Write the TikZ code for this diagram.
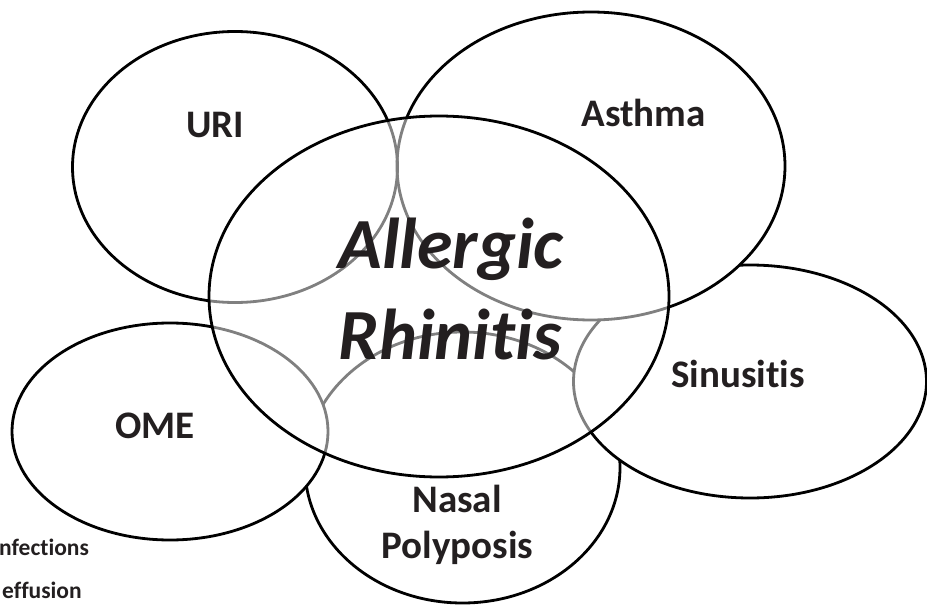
\documentclass[tikz,border=0pt]{standalone}
\usepackage{fontspec}
\setmainfont{Carlito}[Ligatures={NoCommon,NoContextual}]
\usetikzlibrary{shapes.geometric}
\definecolor{txt}{HTML}{231F20}
\begin{document}
\begin{tikzpicture}[x=1pt,y=-1pt,
  bub/.style={ellipse, draw=black, line width=2.8pt, inner sep=0pt, outer sep=0pt},
  lab/.style={font=\bfseries\fontsize{39}{46}\selectfont, text=txt, inner sep=0pt, anchor=base},
  biglab/.style={font=\bfseries\itshape\fontsize{72}{90}\selectfont, text=txt, inner sep=0pt, anchor=base},
  smalllab/.style={font=\bfseries\fontsize{23.5}{28}\selectfont, text=txt, inner sep=0pt, anchor=base west}]
\useasboundingbox (0,0) rectangle (927,605);
\clip (0,0) rectangle (927,605);
% outer circles (order gives the hidden parts)
\node[bub, fill=white, minimum width=315pt, minimum height=271pt] (nasal) at (462.5,467.5) {};
\node[bub, fill=white, minimum width=353pt, minimum height=233pt] (sinus) at (750,381.5) {};
\node[bub, fill=white, minimum width=316pt, minimum height=217pt] (ome) at (170,431.5) {};
\fill[white] (591,166) ellipse [x radius=194, y radius=154];
\fill[white] (235,167) ellipse [x radius=162.5, y radius=135.5];
\node[bub, minimum width=388pt, minimum height=308pt] (asthma) at (591,166) {};
\node[bub, minimum width=325pt, minimum height=271pt] (uri) at (235,167) {};
% central circle
\node[bub, fill=white, fill opacity=0.5, minimum width=460pt, minimum height=361pt] (ar) at (439,296.5) {};
% labels
\node[lab] (uritext) at (215,137) {URI};
\node[lab] (asthmatext) at (643.5,126) {Asthma};
\node[lab] (sinustext) at (738,387) {Sinusitis};
\node[lab] (ometext) at (155,438) {OME};
\node[lab] (nasaltext) at (457,512) {Nasal};
\node[lab] (polytext) at (457.5,558) {Polyposis};
\node[biglab] (allergictext) at (451,268) {Allergic};
\node[biglab] (rhinitistext) at (450,359) {Rhinitis};
\node[smalllab] (inftext) at (-1,555) {nfections};
\node[smalllab] (efftext) at (2,598) {effusion};
\end{tikzpicture}
\end{document}
